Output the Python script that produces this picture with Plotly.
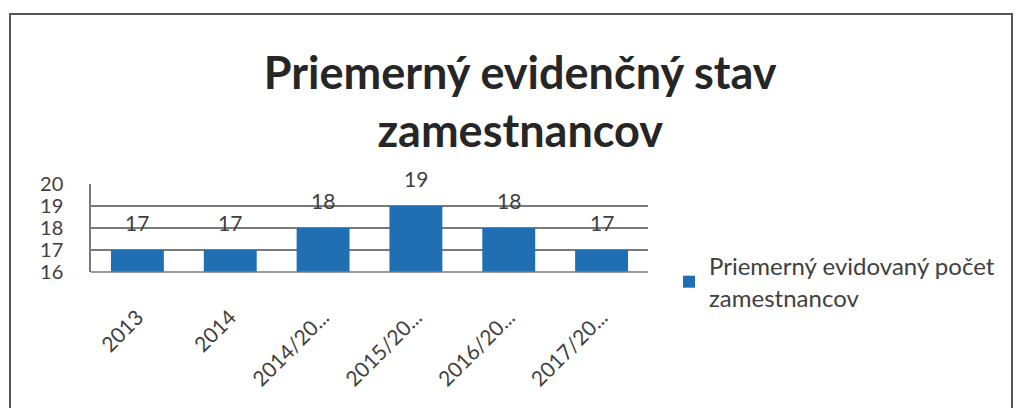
import plotly.graph_objects as go

categories = ["2013", "2014", "2014/20...", "2015/20...", "2016/20...", "2017/20..."]
values = [17, 17, 18, 19, 18, 17]
series_name = "Priemerný evidovaný počet<br>zamestnancov"
title_text = "Priemerný evidenčný stav<br>zamestnancov"
y_ticks = [16, 17, 18, 19, 20]

FONT = "Lato, 'Open Sans', sans-serif"
BAR = "#1f6fb2"

fig = go.Figure()
fig.add_trace(go.Bar(
    x=categories, y=values, name=series_name,
    marker=dict(color=BAR, line=dict(width=0)),
    showlegend=True,
))

# data labels above bars (x given as category index on the category axis)
for i, v in enumerate(values):
    fig.add_annotation(x=i, y=v, text=str(v), showarrow=False,
                       yanchor="middle", yshift=28,
                       font=dict(family=FONT, size=21, color="#404040"))

W, H = 1020, 408
L, R, T, B = 91, 372, 184, 136
pw, ph = W - L - R, H - T - B

def px(x):
    return (x - L) / pw

def py(y):
    return (H - B - y) / ph

fig.add_shape(type="rect", xref="paper", yref="paper",
              x0=px(10), x1=px(1012), y0=py(440), y1=py(14),
              line=dict(color="#555555", width=2), fillcolor="rgba(0,0,0,0)",
              layer="below")

fig.update_layout(
    width=W, height=H,
    margin=dict(l=L, r=R, t=T, b=B, autoexpand=False),
    paper_bgcolor="white", plot_bgcolor="white",
    bargap=0.43,
    title=dict(text=title_text, x=0.51, xref="container", xanchor="center",
               y=0.783, yref="container", yanchor="middle",
               font=dict(family=FONT, size=45, color="#262626", weight="bold")),
    legend=dict(x=px(669), y=py(244), xanchor="left", yanchor="top",
                font=dict(family=FONT, size=24, color="#404040"),
                bgcolor="rgba(0,0,0,0)", itemwidth=30),
    xaxis=dict(type="category", categoryorder="array", categoryarray=categories,
               automargin=False, ticklabelstandoff=28,
               showgrid=False, tickangle=-45, ticks="", showline=False,
               tickfont=dict(family=FONT, size=21, color="#404040")),
    yaxis=dict(range=[16, 20], tickvals=y_ticks, showgrid=True, automargin=False,
               gridcolor="#7a7a7a", gridwidth=1.5, showline=True,
               linecolor="#7a7a7a", linewidth=1.5, zeroline=False,
               ticks="", ticklabelstandoff=22,
               tickfont=dict(family=FONT, size=20, color="#404040")),
)
fig.add_shape(type="line", xref="paper", yref="paper", x0=0, x1=1, y0=0, y1=0,
              line=dict(color="#7a7a7a", width=1.5))

fig.write_html("out.html", config={"displayModeBar": False},
               post_script="document.body.style.margin='0px';")
